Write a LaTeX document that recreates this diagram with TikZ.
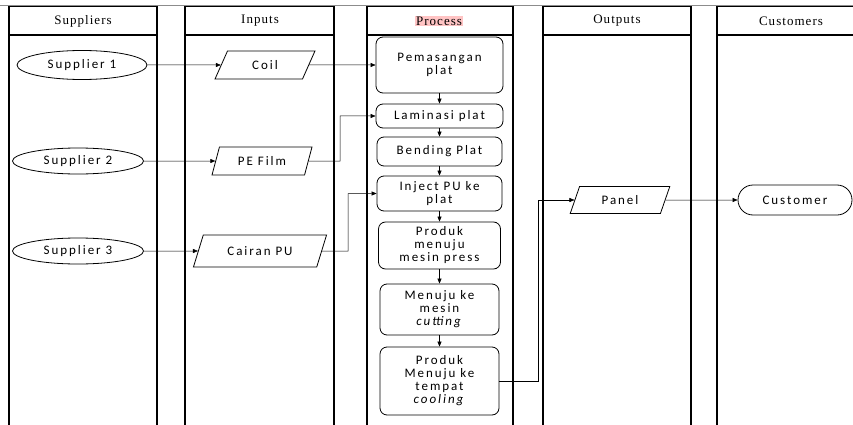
\documentclass[tikz,border=0pt]{standalone}
\usepackage{fontspec}
\setmainfont{Liberation Serif}
\newfontfamily\hdrfont[LetterSpace=8]{Liberation Serif}
\newfontfamily\calib[LetterSpace=15]{Carlito}
\usetikzlibrary{shapes.geometric,shapes.misc,arrows.meta}
\definecolor{hlpink}{RGB}{255,196,196}
\begin{document}
\begin{tikzpicture}[x=1pt,y=-1pt,
  lane/.style={draw=black,line width=1.1pt},
  topline/.style={draw=black!45,line width=1.4pt},
  hdr/.style={font=\hdrfont\fontsize{13}{15}\selectfont,inner sep=1pt},
  sup/.style={ellipse,draw,line width=0.8pt,inner sep=0pt,font=\calib\fontsize{13}{13}\selectfont},
  io/.style={trapezium,trapezium stretches=true,trapezium left angle=65,trapezium right angle=115,draw,line width=0.8pt,inner sep=0pt,font=\calib\fontsize{13}{13}\selectfont},
  proc/.style={rectangle,rounded corners=7pt,draw,line width=0.8pt,inner sep=0pt,align=center,font=\calib\fontsize{13}{13}\selectfont},
  term/.style={rounded rectangle,draw,line width=0.8pt,inner sep=0pt,font=\calib\fontsize{13}{13}\selectfont},
  conn/.style={line width=0.5pt,-{Triangle[length=5pt,width=4pt]}},
]
\useasboundingbox (0,0) rectangle (853,425);
\clip (0,0) rectangle (853,425);
% swimlanes
\foreach \a/\b in {9/157,185/334,367/513,543/691,717/870}{
  \draw[lane] (\a,440) -- (\a,6) -- (\b,6) -- (\b,440);
  \draw[lane] (\a,35) -- (\b,35);
}
\draw[topline] (0,5.5) -- (853,5.5);
% headers
\node[hdr] (hsup) at (83,21) {Suppliers};
\node[hdr] (hin) at (260,21) {Inputs};
\node[hdr,fill=hlpink] (hproc) at (439,21) {Process};
\node[hdr] (hout) at (617,21) {Outputs};
\node[hdr] (hcus) at (791,21) {Customers};
% suppliers
\node[sup,minimum width=130pt,minimum height=29pt] (s1) at (82,65) {Supplier 1};
\node[sup,minimum width=131pt,minimum height=26pt] (s2) at (78,161) {Supplier 2};
\node[sup,minimum width=131pt,minimum height=26pt] (s3) at (78,251) {Supplier 3};
% inputs
\node[io,minimum width=100pt,minimum height=28pt] (coil) at (265,65) {Coil};
\node[io,minimum width=100pt,minimum height=28pt] (pe) at (262,161) {PE Film};
\node[io,trapezium left angle=58,trapezium right angle=122,minimum width=134pt,minimum height=32pt] (cair) at (260,251) {Cairan PU};
% process
\node[proc,minimum width=127pt,minimum height=56pt] (p1) at (439.5,65) {Pemasangan\\plat};
\node[proc,minimum width=127pt,minimum height=24pt] (p2) at (439.5,116) {Laminasi plat};
\node[proc,minimum width=125pt,minimum height=29pt] (p3) at (439.5,151.5) {Bending Plat};
\node[proc,minimum width=125pt,minimum height=35pt] (p4) at (439.5,193.5) {Inject PU ke\\plat};
\node[proc,minimum width=122pt,minimum height=47pt] (p5) at (439.5,245.5) {Produk\\menuju\\mesin press};
\node[proc,minimum width=119pt,minimum height=51pt] (p6) at (439.5,309.5) {Menuju ke\\mesin\\\textit{cutting}};
\node[proc,minimum width=119pt,minimum height=68pt] (p7) at (439.5,381) {Produk\\Menuju ke\\tempat\\\textit{cooling}};
% outputs / customers
\node[io,minimum width=100pt,minimum height=27pt] (panel) at (620,200) {Panel};
\node[term,minimum width=114pt,minimum height=30pt] (cust) at (795,200) {Customer};
% connectors
\draw[conn] (s1.east) -- (coil.west);
\draw[conn] (coil.east) -- (p1.west);
\draw[conn] (s2.east) -- (pe.west);
\draw[conn] (s3.east) -- (cair.west);
\draw[conn] (pe.east) -- (340,161) |- (p2.west);
\draw[conn] (cair.east) -- (348,251) |- (p4.west);
\draw[conn] (p1.south) -- (p2.north);
\draw[conn] (p2.south) -- (p3.north);
\draw[conn] (p3.south) -- (p4.north);
\draw[conn] (p4.south) -- (p5.north);
\draw[conn] (p5.south) -- (p6.north);
\draw[conn] (p6.south) -- (p7.north);
\draw[conn] (p7.east) -- (538,381) |- (panel.west);
\draw[conn] (panel.east) -- (cust.west);
\end{tikzpicture}
\end{document}
